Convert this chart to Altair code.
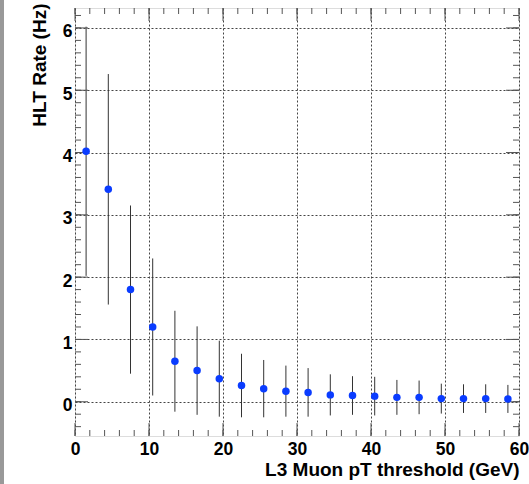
import altair as alt
import pandas as pd

# ---- data ----
thresholds = [1.5, 4.5, 7.5, 10.5, 13.5, 16.5, 19.5, 22.5, 25.5, 28.5,
              31.5, 34.5, 37.5, 40.5, 43.5, 46.5, 49.5, 52.5, 55.5, 58.5]
rates = [4.02, 3.41, 1.80, 1.20, 0.65, 0.50, 0.37, 0.26, 0.21, 0.17,
         0.15, 0.11, 0.10, 0.09, 0.07, 0.07, 0.05, 0.05, 0.05, 0.045]
errors = [2.00, 1.85, 1.35, 1.10, 0.81, 0.71, 0.61, 0.51, 0.46, 0.41,
          0.39, 0.33, 0.31, 0.31, 0.28, 0.27, 0.24, 0.23, 0.23, 0.225]

x_major = [0, 10, 20, 30, 40, 50, 60]
y_major = [0, 1, 2, 3, 4, 5, 6]
x_minor = list(range(0, 61, 2))
y_minor = [round(-0.4 + 0.2 * i, 1) for i in range(34)]

W, H = 444, 428
FONT = "Liberation Sans"
FRAME = "#555555"

df = pd.DataFrame({"pt": thresholds, "rate": rates, "err": errors})

x_scale = alt.Scale(domain=[0, 60], nice=False, zero=False)
y_scale = alt.Scale(domain=[-0.55, 6.32], nice=False, zero=False)

x_axis = alt.Axis(
    values=x_major, format="d", ticks=False, domain=False,
    grid=True, gridDash=[2, 2], gridColor="#444444", gridWidth=1,
    labelFont=FONT, labelFontSize=17.5, labelFontWeight="bold", labelColor="black",
    labelPadding=4, labelFlush=False, labelOverlap=False,
    title="L3 Muon pT threshold (GeV)", titleFont=FONT, titleFontSize=19,
    titleFontWeight="bold", titleColor="black", titleAnchor="end",
    titleAlign="right", titleBaseline="alphabetic", titleX=W, titleY=39,
)
y_axis = alt.Axis(
    values=y_major, format="d", ticks=False, domain=False,
    grid=True, gridDash=[2, 2], gridColor="#444444", gridWidth=1,
    labelFont=FONT, labelFontSize=17.5, labelFontWeight="bold", labelColor="black",
    labelPadding=3, labelOffset=4, labelFlush=False, labelOverlap=False,
    title="HLT Rate (Hz)", titleFont=FONT, titleFontSize=19,
    titleFontWeight="bold", titleColor="black", titleAngle=270,
    titleAlign="right", titleBaseline="alphabetic", titleX=-30, titleY=-5,
)

bars = alt.Chart(df).transform_calculate(
    lo="datum.rate - datum.err", hi="datum.rate + datum.err"
).mark_rule(color="#333333", strokeWidth=1).encode(
    x=alt.X("pt:Q", scale=x_scale, axis=x_axis),
    y=alt.Y("lo:Q", scale=y_scale, axis=y_axis),
    y2="hi:Q",
)

points = alt.Chart(df).mark_circle(size=56, color="#0a3cff", opacity=1).encode(
    x=alt.X("pt:Q", scale=x_scale, axis=x_axis),
    y=alt.Y("rate:Q", scale=y_scale, axis=y_axis),
)

xmin_df = pd.DataFrame({"pt": x_minor})
xmaj_df = pd.DataFrame({"pt": x_major})
ymin_df = pd.DataFrame({"rate": y_minor})
ymaj_df = pd.DataFrame({"rate": y_major})


def xticks(d, length):
    enc_x = alt.X("pt:Q", scale=x_scale, axis=x_axis)
    bottom = alt.Chart(d).mark_rule(color=FRAME, strokeWidth=1).encode(
        x=enc_x, y=alt.value(H), y2=alt.value(H - length))
    top = alt.Chart(d).mark_rule(color=FRAME, strokeWidth=1).encode(
        x=enc_x, y=alt.value(0), y2=alt.value(length))
    return [bottom, top]


def yticks(d, length):
    enc_y = alt.Y("rate:Q", scale=y_scale, axis=y_axis)
    left = alt.Chart(d).mark_rule(color=FRAME, strokeWidth=1).encode(
        y=enc_y, x=alt.value(0), x2=alt.value(length))
    right = alt.Chart(d).mark_rule(color=FRAME, strokeWidth=1).encode(
        y=enc_y, x=alt.value(W), x2=alt.value(W - length))
    return [left, right]


strip = alt.Chart(pd.DataFrame({"a": [0]})).mark_rect(color="#999999").encode(
    x=alt.value(-75), x2=alt.value(-71), y=alt.value(-8), y2=alt.value(H + 48)
)

layers = [bars] + xticks(xmin_df, 6) + xticks(xmaj_df, 13) + yticks(ymin_df, 6) + yticks(ymaj_df, 13) + [points, strip]

chart = alt.layer(*layers).properties(
    width=W, height=H,
    autosize=alt.AutoSizeParams(type="none"),
    padding={"left": 75, "top": 8, "right": 10, "bottom": 48},
).configure_view(
    stroke=FRAME, strokeWidth=1, fill="white"
).configure(background="white")

chart.save("out.html", embed_options={"renderer": "svg", "actions": False})
